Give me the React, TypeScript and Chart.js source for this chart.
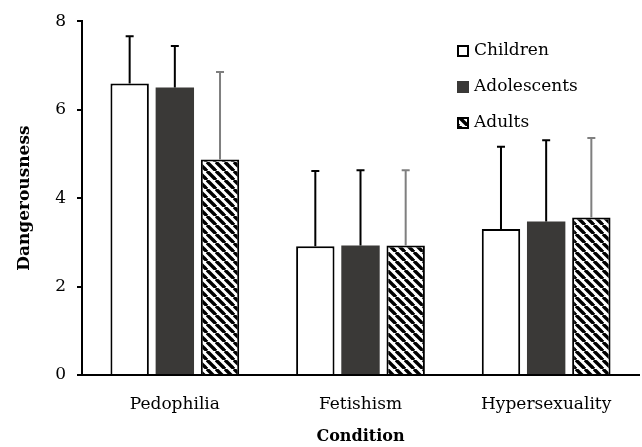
import React, { useEffect, useRef } from "react";
import { Chart, registerables } from "chart.js";

Chart.register(...registerables);

const categories = ["Pedophilia", "Fetishism", "Hypersexuality"];
const seriesNames = ["Children", "Adolescents", "Adults"];
const childrenMeans = [6.59, 2.91, 3.3];
const adolescentsMeans = [6.5, 2.93, 3.47];
const adultsMeans = [4.87, 2.93, 3.56];
const childrenSD = [1.07, 1.7, 1.86];
const adolescentsSD = [0.94, 1.7, 1.84];
const adultsSD = [1.98, 1.7, 1.8];
const yTicks = [0, 2, 4, 6, 8];

const FONT = "'DejaVu Serif', serif";

function makeHatch(): CanvasPattern | string {
  const s = 9;
  const c = document.createElement("canvas");
  c.width = s;
  c.height = s;
  const ctx = c.getContext("2d");
  if (!ctx) return "#000";
  ctx.fillStyle = "#fff";
  ctx.fillRect(0, 0, s, s);
  ctx.strokeStyle = "#000";
  ctx.lineWidth = 3.4;
  for (const x0 of [-s, 0, s]) {
    ctx.beginPath();
    ctx.moveTo(x0, 0);
    ctx.lineTo(x0 + s, s);
    ctx.stroke();
  }
  const p = ctx.createPattern(c, "repeat");
  return p || "#000";
}

export default function App() {
  const ref = useRef<HTMLCanvasElement>(null);

  useEffect(() => {
    document.body.style.margin = "0";
    const hatch = makeHatch();
    const errs = [childrenSD, adolescentsSD, adultsSD];
    const errColors = ["#000", "#000", "#7f7f7f"];

    const errorBars = {
      id: "errorBars",
      afterDatasetsDraw(chart: any) {
        const ctx = chart.ctx;
        const yScale = chart.scales.y;
        chart.data.datasets.forEach((ds: any, di: number) => {
          const meta = chart.getDatasetMeta(di);
          meta.data.forEach((el: any, i: number) => {
            const v = ds.data[i];
            const top = yScale.getPixelForValue(v + errs[di][i]);
            ctx.save();
            ctx.strokeStyle = errColors[di];
            ctx.lineWidth = 2;
            ctx.beginPath();
            ctx.moveTo(el.x, el.y);
            ctx.lineTo(el.x, top);
            ctx.moveTo(el.x - 4, top);
            ctx.lineTo(el.x + 4, top);
            ctx.stroke();
            ctx.restore();
          });
        });
      },
    };

    const legendBox = {
      id: "legendBox",
      afterDraw(chart: any) {
        const ctx = chart.ctx;
        const x = 457;
        const ys = [51, 87, 123];
        chart.data.datasets.forEach((ds: any, i: number) => {
          const y = ys[i];
          ctx.save();
          ctx.fillStyle = ds.backgroundColor;
          ctx.fillRect(x, y - 6, 12, 12);
          if (ds.borderWidth > 0) {
            ctx.strokeStyle = "#000";
            ctx.lineWidth = 2;
            ctx.strokeRect(x + 1, y - 5, 10, 10);
          }
          ctx.fillStyle = "#000";
          ctx.font = `17px ${FONT}`;
          ctx.textBaseline = "middle";
          ctx.textAlign = "left";
          ctx.fillText(seriesNames[i], x + 17, y);
          ctx.restore();
        });
      },
    };

    const chart = new Chart(ref.current!, {
      type: "bar",
      data: {
        labels: categories,
        datasets: [
          {
            label: seriesNames[0],
            data: childrenMeans,
            backgroundColor: "#ffffff",
            borderColor: "#000",
            borderWidth: 2,
            borderSkipped: "bottom",
          },
          {
            label: seriesNames[1],
            data: adolescentsMeans,
            backgroundColor: "#3a3937",
            borderWidth: 0,
          },
          {
            label: seriesNames[2],
            data: adultsMeans,
            backgroundColor: hatch as any,
            borderColor: "#000",
            borderWidth: 2,
            borderSkipped: "bottom",
          },
        ],
      },
      options: {
        animation: false,
        responsive: false,
        devicePixelRatio: 1,
        layout: { padding: { top: 17, right: 3, left: 0, bottom: 0 } },
        datasets: { bar: { categoryPercentage: 0.73, barPercentage: 0.85 } },
        plugins: {
          legend: { display: false },
          tooltip: { enabled: false },
        },
        scales: {
          x: {
            afterFit(scale: any) {
              scale.height = 72;
            },
            grid: { display: false, drawTicks: false },
            border: { display: true, color: "#000", width: 2 },
            ticks: { color: "#000", font: { family: FONT, size: 17 }, padding: 19 },
            title: {
              display: true,
              text: "Condition",
              color: "#000",
              font: { family: FONT, size: 16, weight: "bold" },
              padding: { top: 0, bottom: 1 },
            },
          },
          y: {
            min: 0,
            max: 8,
            afterFit(scale: any) {
              scale.width = 82;
            },
            afterBuildTicks(scale: any) {
              scale.ticks = yTicks.map((v) => ({ value: v }));
            },
            grid: {
              drawOnChartArea: false,
              drawTicks: true,
              tickLength: 5,
              color: "#000",
              lineWidth: 2,
            },
            border: { display: true, color: "#000", width: 2 },
            ticks: { color: "#000", font: { family: FONT, size: 17 }, padding: 11 },
            title: {
              display: true,
              text: "Dangerousness",
              color: "#000",
              font: { family: FONT, size: 17, weight: "bold" },
              padding: { top: 14, bottom: 0 },
            },
          },
        },
      },
      plugins: [errorBars, legendBox],
    });
    return () => chart.destroy();
  }, []);

  return (
    <div style={{ width: 642, height: 447 }}>
      <canvas ref={ref} width={642} height={447} style={{ display: "block" }} />
    </div>
  );
}
